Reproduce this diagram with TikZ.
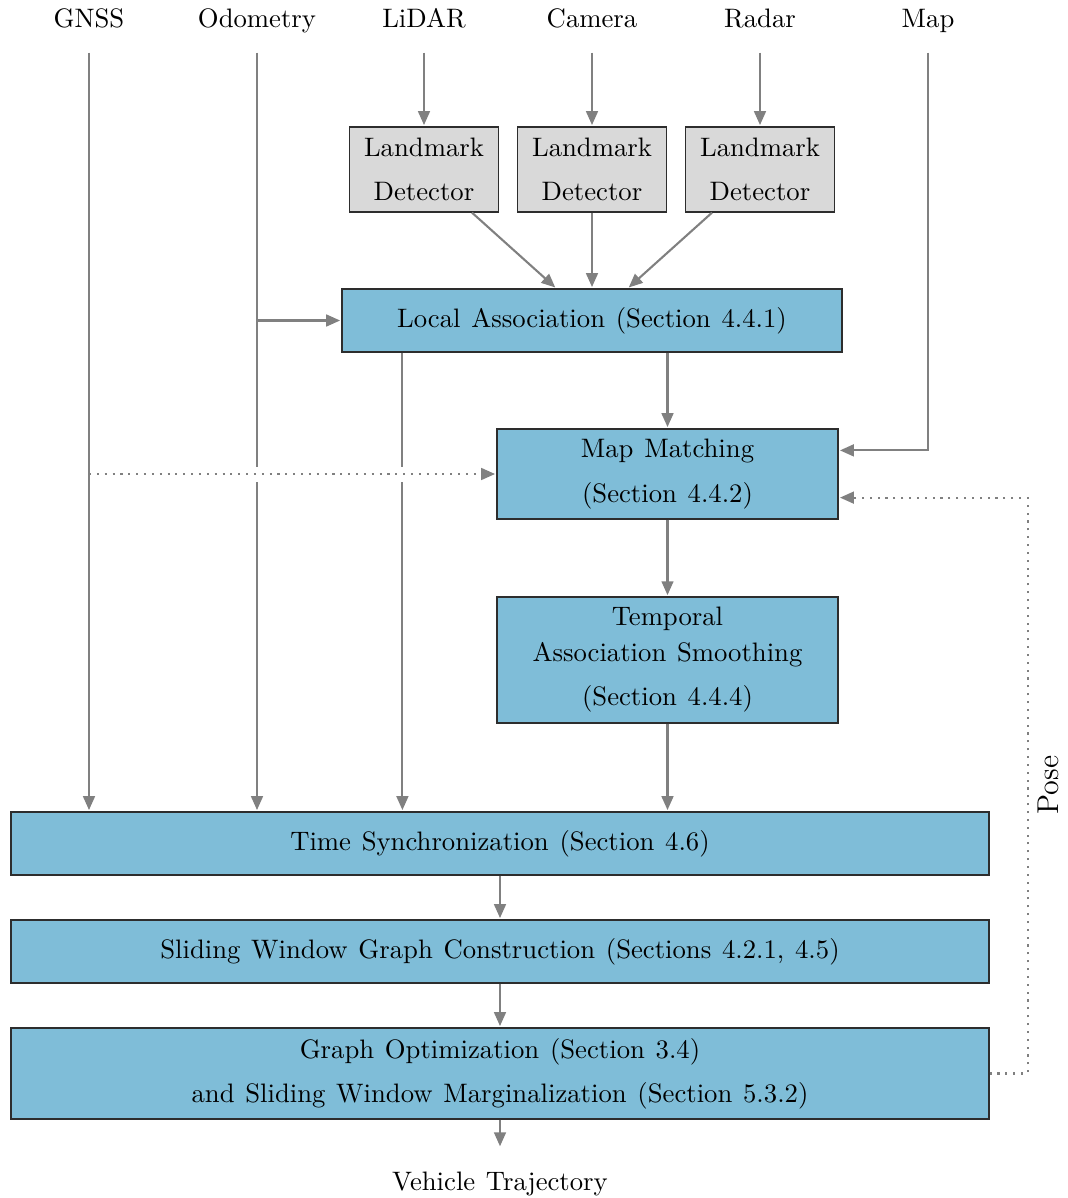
\documentclass[tikz,border=0pt]{standalone}
\usetikzlibrary{arrows.meta,calc}
\definecolor{boxblue}{RGB}{127,189,216}
\definecolor{detgray}{RGB}{217,217,217}
\definecolor{linegray}{RGB}{128,128,128}
\definecolor{edgegray}{RGB}{45,45,45}
\newcommand\diagfont{\fontsize{10.2}{13.7}\selectfont\spaceskip=4.1pt plus 1pt minus 0.5pt\relax}
\begin{document}
\begin{tikzpicture}[x=0.382pt,y=-0.382pt,
  every node/.style={font=\diagfont},
  lbl/.style={anchor=base, inner xsep=0pt, inner ysep=7pt, text depth=2.2pt},
  box/.style={draw=edgegray, line width=0.45pt, fill=boxblue, align=center, inner sep=0pt},
  det/.style={box, fill=detgray, minimum width=56.9pt, minimum height=32.5pt},
  conn/.style={draw=linegray, line width=0.8pt, shorten >=0.5pt,
    -{Triangle[length=5.3pt,width=4.5pt]}},
  dots/.style={conn, dash pattern=on 0.8pt off 2.2pt},
]
\useasboundingbox (0,0) rectangle (1067,1198);

% sensor inputs
\node[lbl] (gnss)  at (89,28)  {GNSS};
\node[lbl] (odo)   at (257,28) {Odometry};
\node[lbl] (lidar) at (424,28) {LiDAR};
\node[lbl] (cam)   at (592,28) {Camera};
\node[lbl] (radar) at (760,28) {Radar};
\node[lbl] (map)   at (928,28) {Map};

% landmark detectors
\node[det] (det1) at (424,169.5) {Landmark\\[3.2pt]Detector};
\node[det] (det2) at (592,169.5) {Landmark\\[3.2pt]Detector};
\node[det] (det3) at (760,169.5) {Landmark\\[3.2pt]Detector};

% processing stages
\node[box, minimum width=191pt, minimum height=24.1pt] (la) at (592,320.5)
  {Local Association (Section 4.4.1)};
\node[box, minimum width=130.3pt, minimum height=34.4pt] (mm) at (667.5,474)
  {Map Matching\\[3.2pt](Section 4.4.2)};
\node[box, minimum width=130.3pt, minimum height=48.1pt] (tas) at (667.5,660)
  {Temporal\\Association Smoothing\\[3.2pt](Section 4.4.4)};
\node[box, minimum width=373.6pt, minimum height=24.1pt] (ts) at (500,843.5)
  {Time Synchronization (Section 4.6)};
\node[box, minimum width=373.6pt, minimum height=24.1pt] (sw) at (500,951.5)
  {Sliding Window Graph Construction (Sections 4.2.1, 4.5)};
\node[box, minimum width=373.6pt, minimum height=34.8pt] (go) at (500,1073.5)
  {Graph Optimization (Section 3.4)\\[3.2pt]and Sliding Window Marginalization (Section 5.3.2)};
\node[anchor=base, inner xsep=0pt, inner ysep=9pt, text height=7pt] (traj) at (500,1190)
  {Vehicle Trajectory};
\node[rotate=90, font=\fontsize{11.5}{14}\selectfont] (pose) at (1048,785) {Pose};

% sensor to detector
\draw[conn] (lidar.south) -- (det1.north);
\draw[conn] (cam.south) -- (det2.north);
\draw[conn] (radar.south) -- (det3.north);

% detectors to local association
\draw[conn] (det1) -- (la);
\draw[conn] (det2) -- (la);
\draw[conn] (det3) -- (la);

% long vertical feeds into time synchronization
\draw[conn] (gnss.south) -- (gnss.south |- ts.north);
\draw[conn] (odo.south) -- (odo.south |- ts.north);
\draw[conn] (odo.south |- la.west) -- (la.west);
\path (la.south west) ++(61,0) coordinate (lafeed);
\draw[conn] (lafeed) -- (lafeed |- ts.north);

% local association to map matching, map input
\draw[conn] (la.south -| mm.north) -- (mm.north);
\draw[conn] (map.south) |- ($(mm.north east)+(0,22)$);

% gaps where the GNSS prior crosses the solid feeds
\fill[white] (252,467) rectangle (262,482);
\fill[white] (398,467) rectangle (408,482);
\draw[dots] (gnss.south |- mm.west) -- (mm.west);

% map matching chain
\draw[conn] (mm) -- (tas);
\draw[conn] (tas.south) -- (tas.south |- ts.north);

% back end
\draw[conn] (ts) -- (sw);
\draw[conn] (sw) -- (go);
\draw[conn] (go.south) -- (traj.north);

% pose feedback
\draw[dots] (go.east) -- ++(38,0) |- ($(mm.south east)+(0,-22)$);
\end{tikzpicture}
\end{document}
